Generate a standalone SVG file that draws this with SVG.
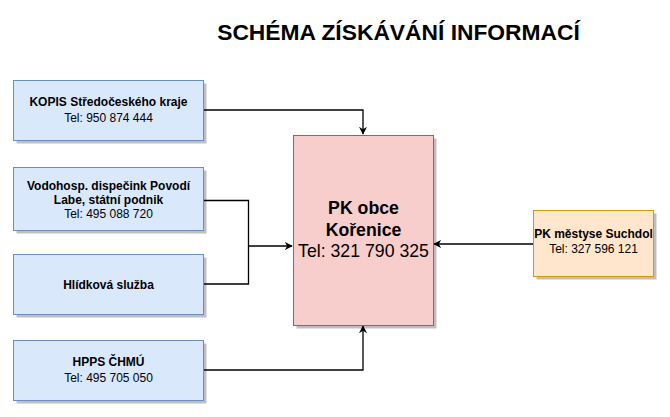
<svg xmlns="http://www.w3.org/2000/svg" width="670" height="417" viewBox="0 0 670 417">
<style>
  text { font-family: "Liberation Sans", Arial, sans-serif; fill: #000; text-anchor: middle; }
  .b { font-weight: bold; }
  .s { font-size: 12px; }
  .big { font-size: 17.7px; }
  .title { font-size: 22.8px; font-weight: bold; }
  .blue { fill: #dae8fc; stroke: #6c8ebf; stroke-width: 1; }
  .red { fill: #f8cecc; stroke: #b85450; stroke-width: 1; }
  .orange { fill: #ffe6cc; stroke: #d79b00; stroke-width: 1; }
  .shadow { fill: #000; opacity: 0.25; }
  .conn { fill: none; stroke: #000; stroke-width: 1.3; }
</style>
<defs>
  <marker id="arr" viewBox="0 0 10 10" refX="9" refY="5" markerWidth="8" markerHeight="8" markerUnits="userSpaceOnUse" orient="auto">
    <path d="M0,0 L10,5 L0,10 L3,5 Z" fill="#000"/>
  </marker>
</defs>
<rect width="670" height="417" fill="#fff"/>
<text class="title" x="398.5" y="40">SCHÉMA ZÍSKÁVÁNÍ INFORMACÍ</text>

<g id="connectors">
  <path class="conn" d="M203.5,110 H363 V134" marker-end="url(#arr)"/>
  <path class="conn" d="M203.5,200.5 H248.5 V284 H203.5"/>
  <path class="conn" d="M248.5,246 H292" marker-end="url(#arr)"/>
  <path class="conn" d="M203.5,370 H363 V326" marker-end="url(#arr)"/>
  <path class="conn" d="M533,244 H434" marker-end="url(#arr)"/>
</g>

<g id="kopis">
  <rect class="shadow" x="16.5" y="83.5" width="190" height="60"/>
  <rect class="blue" x="13.5" y="80.5" width="190" height="60"/>
  <text class="s b" x="108.5" y="106">KOPIS Středočeského kraje</text>
  <text class="s" x="108.5" y="122">Tel: 950 874 444</text>
</g>

<g id="vodohosp">
  <rect class="shadow" x="16.5" y="170.5" width="190" height="63"/>
  <rect class="blue" x="13.5" y="167.5" width="190" height="63"/>
  <text class="s b" x="108.5" y="190">Vodohosp. dispečink Povodí</text>
  <text class="s b" x="108.5" y="204">Labe, státní podnik</text>
  <text class="s" x="108.5" y="218">Tel: 495 088 720</text>
</g>

<g id="hlidkova">
  <rect class="shadow" x="16.5" y="257.5" width="190" height="60"/>
  <rect class="blue" x="13.5" y="254.5" width="190" height="60"/>
  <text class="s b" x="108.5" y="288.5">Hlídková služba</text>
</g>

<g id="hpps">
  <rect class="shadow" x="16.5" y="343.5" width="190" height="60"/>
  <rect class="blue" x="13.5" y="340.5" width="190" height="60"/>
  <text class="s b" x="108.5" y="366">HPPS ČHMÚ</text>
  <text class="s" x="108.5" y="382">Tel: 495 705 050</text>
</g>

<g id="pk-korenice">
  <rect class="shadow" x="296.5" y="138.5" width="140" height="190"/>
  <rect class="red" x="293.5" y="135.5" width="140" height="190"/>
  <text class="big b" x="363.5" y="214">PK obce</text>
  <text class="big b" x="363.5" y="236">Kořenice</text>
  <text class="big" x="363.5" y="257">Tel: 321 790 325</text>
</g>

<g id="pk-suchdol">
  <rect class="shadow" x="536.5" y="213.5" width="120" height="66"/>
  <rect class="orange" x="533.5" y="210.5" width="120" height="66"/>
  <text class="s b" x="593.5" y="238">PK městyse Suchdol</text>
  <text class="s" x="593.5" y="253">Tel: 327 596 121</text>
</g>
</svg>
